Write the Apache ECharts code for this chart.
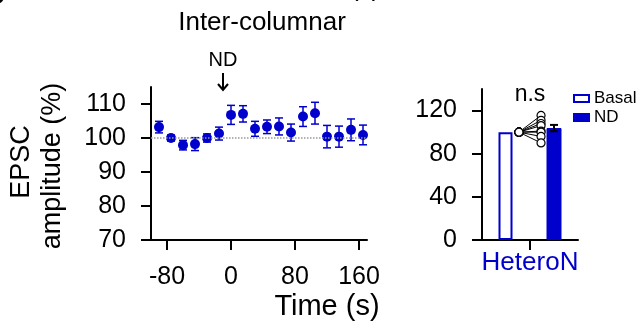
<!DOCTYPE html>
<html>
<head>
<meta charset="utf-8">
<script src="https://cdn.jsdelivr.net/npm/echarts@6/dist/echarts.min.js"></script>
<style>
  html, body { margin: 0; padding: 0; background: #fff; }
  #chart { width: 640px; height: 325px; }
</style>
</head>
<body>
<div id="chart"></div>
<script>
// time course, EPSC amplitude (% of baseline)
const times = [-90, -75, -60, -45, -30, -15, 0, 15, 30, 45, 60, 75, 90, 105, 120, 135, 150, 165];
const amplitude = [103.2, 100.0, 97.9, 98.2, 100.0, 101.3, 106.8, 107.1, 102.7, 103.3, 103.4, 101.6, 106.3, 107.3, 100.4, 100.4, 102.4, 100.9];
const amplitudeSem = [1.7, 0.9, 1.4, 1.9, 1.2, 1.9, 2.8, 2.4, 2.2, 2.0, 2.5, 2.5, 2.9, 3.2, 3.3, 3.1, 3.2, 2.9];
const leftXTicks = [-80, 0, 80, 160];
const leftYTicks = [70, 80, 90, 100, 110];
const ndTime = -10;

// summary bars
const groupName = 'HeteroN';
const barNames = ['Basal', 'ND'];
const barMeans = [100, 103.8];
const barSems = [0, 2.9];
const pairedBasal = [100, 100, 100, 100, 100, 100, 100, 100];
const pairedNd = [115.5, 111, 108, 106, 101, 100, 96, 90];
const rightYTicks = [0, 40, 80, 120];

const blue = '#0000cc';
const font = 'Liberation Sans, Arial, sans-serif';

const chart = echarts.init(document.getElementById('chart'));

const errorBars = (color, capHalf, width) => (params, api) => {
  const x = api.value(0);
  const lo = api.coord([x, api.value(1)]);
  const hi = api.coord([x, api.value(2)]);
  const style = { stroke: color, lineWidth: width };
  const seg = (x1, y1, x2, y2) => ({ type: 'line', shape: { x1, y1, x2, y2 }, style });
  return {
    type: 'group',
    children: [
      seg(lo[0], lo[1], hi[0], hi[1]),
      seg(hi[0] - capHalf, hi[1], hi[0] + capHalf, hi[1]),
      seg(lo[0] - capHalf, lo[1], lo[0] + capHalf, lo[1]),
    ],
  };
};

const axisLine = { onZero: false, lineStyle: { color: '#000', width: 2 } };
const axisTick = { length: 10, lineStyle: { color: '#000', width: 2 } };

const pairedSeries = pairedBasal.map((b, i) => ({
  type: 'line',
  xAxisIndex: 1,
  yAxisIndex: 1,
  data: [[0.27, b], [0.73, pairedNd[i]]],
  symbol: 'circle',
  symbolSize: 8,
  itemStyle: { color: '#fff', borderColor: '#000', borderWidth: 1.2 },
  lineStyle: { color: '#000', width: 1 },
  z: 5,
  silent: true,
}));

chart.setOption({
  animation: false,
  textStyle: { fontFamily: font, color: '#000' },
  grid: [
    { left: 151, top: 87, width: 216, height: 153 },
    { left: 482, top: 89, width: 96, height: 151 },
  ],
  xAxis: [
    {
      type: 'value', gridIndex: 0, min: -100, max: 170,
      axisLine, axisTick: { ...axisTick, customValues: leftXTicks },
      axisLabel: { customValues: leftXTicks, fontSize: 25, color: '#000', margin: 25 },
      splitLine: { show: false },
    },
    {
      type: 'value', gridIndex: 1, min: -0.5, max: 1.5,
      axisLine, axisTick: { ...axisTick, customValues: [0.5] },
      axisLabel: { customValues: [0.5], formatter: () => groupName, fontSize: 26, color: blue, margin: 10 },
      splitLine: { show: false },
    },
  ],
  yAxis: [
    {
      type: 'value', gridIndex: 0, min: 70, max: 115,
      axisLine: { show: true, ...axisLine }, axisTick: { show: true, ...axisTick, customValues: leftYTicks },
      axisLabel: { customValues: leftYTicks, fontSize: 25, color: '#000', margin: 25 },
      splitLine: { show: false },
    },
    {
      type: 'value', gridIndex: 1, min: 0, max: 140,
      axisLine: { show: true, ...axisLine }, axisTick: { show: true, ...axisTick, customValues: rightYTicks },
      axisLabel: { customValues: rightYTicks, fontSize: 25, color: '#000', margin: 25 },
      splitLine: { show: false },
    },
  ],
  legend: {
    data: barNames,
    orient: 'vertical',
    left: 568, top: 85,
    icon: 'rect', itemWidth: 15, itemHeight: 7, itemGap: 2,
    textStyle: { fontSize: 17, color: '#000', fontFamily: font },
    selectedMode: false,
  },
  series: [
    {
      type: 'custom', xAxisIndex: 0, yAxisIndex: 0,
      renderItem: errorBars(blue, 4, 1.5),
      data: times.map((t, i) => [t, amplitude[i] - amplitudeSem[i], amplitude[i] + amplitudeSem[i]]),
      z: 2, silent: true,
    },
    {
      type: 'scatter', xAxisIndex: 0, yAxisIndex: 0,
      data: times.map((t, i) => [t, amplitude[i]]),
      symbolSize: 10,
      itemStyle: { color: blue, opacity: 1 },
      z: 3,
      markLine: {
        silent: true, symbol: 'none', label: { show: false },
        lineStyle: { color: '#999', type: 'dotted', width: 1.5 },
        data: [{ yAxis: 100 }],
      },
    },
    {
      name: barNames[0], type: 'bar', xAxisIndex: 1, yAxisIndex: 1,
      data: [[0, barMeans[0]]], barWidth: 14,
      itemStyle: { color: '#fff', borderColor: blue, borderWidth: 2 },
    },
    {
      name: barNames[1], type: 'bar', xAxisIndex: 1, yAxisIndex: 1,
      data: [[1, barMeans[1]]], barWidth: 15, barGap: '-100%',
      itemStyle: { color: blue, borderColor: blue, borderWidth: 1 },
    },
    {
      type: 'custom', xAxisIndex: 1, yAxisIndex: 1,
      renderItem: errorBars('#000', 4, 2),
      data: barMeans.map((m, i) => [i, m - barSems[i], m + barSems[i]]).filter((d, i) => barSems[i] > 0),
      z: 4, silent: true,
    },
    ...pairedSeries,
  ],
});

// annotations tied to the data coordinates
const ndPos = chart.convertToPixel({ gridIndex: 0 }, [ndTime, 115]);
const nsPos = chart.convertToPixel({ gridIndex: 1 }, [0.5, 140]);
chart.setOption({
  graphic: [
    { type: 'text', x: 262, y: 23, style: { text: 'Inter-columnar', font: `26px ${font}`, fill: '#000', align: 'center', verticalAlign: 'middle' } },
    { type: 'text', x: -14, y: -22, style: { text: 'c', font: `bold 34px ${font}`, fill: '#000' } },
    { type: 'text', x: 350, y: -24, style: { text: '(s)', font: `26px ${font}`, fill: '#000' } },
    { type: 'text', x: ndPos[0], y: 60, style: { text: 'ND', font: `20px ${font}`, fill: '#000', align: 'center', verticalAlign: 'middle' } },
    { type: 'line', shape: { x1: ndPos[0], y1: 73, x2: ndPos[0], y2: 90 }, style: { stroke: '#000', lineWidth: 2 } },
    { type: 'polyline', shape: { points: [[ndPos[0] - 5, 84], [ndPos[0], 90], [ndPos[0] + 5, 84]] }, style: { stroke: '#000', lineWidth: 2, fill: null } },
    { type: 'text', x: nsPos[0], y: 95, style: { text: 'n.s', font: `23px ${font}`, fill: '#000', align: 'center', verticalAlign: 'middle' } },
    { type: 'text', x: 327, y: 307, style: { text: 'Time (s)', font: `29px ${font}`, fill: '#000', align: 'center', verticalAlign: 'middle' } },
    { type: 'text', x: 22, y: 162, rotation: Math.PI / 2, style: { text: 'EPSC', font: `27px ${font}`, fill: '#000', align: 'center', verticalAlign: 'middle' } },
    { type: 'text', x: 53, y: 166, rotation: Math.PI / 2, style: { text: 'amplitude (%)', font: `27px ${font}`, fill: '#000', align: 'center', verticalAlign: 'middle' } },
  ],
});

window.addEventListener('resize', () => chart.resize());
</script>
</body>
</html>
